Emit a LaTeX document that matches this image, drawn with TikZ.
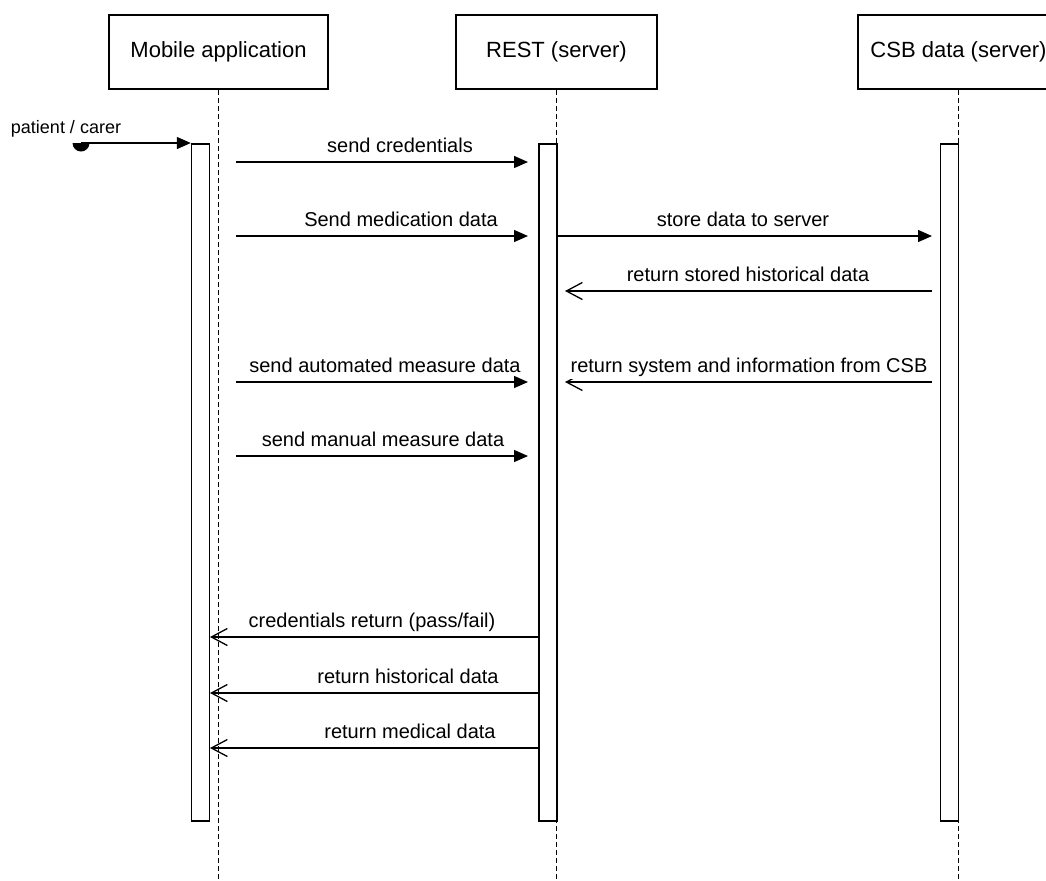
\documentclass[tikz,border=0pt]{standalone}
\usepackage{fontspec}
\setmainfont{Liberation Sans}
\usetikzlibrary{arrows.meta}

\tikzset{
  head/.style={draw, line width=0.8pt, minimum width=100.5pt, minimum height=37pt, font=\fontsize{11}{13}\selectfont},
  bar/.style={draw, line width=0.7pt, fill=white, minimum width=9pt, minimum height=338.5pt, inner sep=0pt},
  life/.style={line width=0.6pt, dash pattern=on 2.5pt off 1.5pt},
  call/.style={line width=0.65pt, -{Triangle[length=7pt, width=6pt]}},
  reply/.style={line width=0.65pt, -{Straight Barb[length=8pt, width=8.5pt]}},
  lbl/.style={font=\fontsize{10}{12}\selectfont, anchor=base, inner sep=1pt}
}

\begin{document}
\begin{tikzpicture}[x=0.5pt, y=-0.5pt]
            \path[use as bounding box] (0,0) rectangle (1046,880);
            \clip (0,0) rectangle (1046,880);

            % lifeline heads
            \node[head, minimum width=109.5pt] (app) at (218.5,52) {Mobile application};
            \node[head] (rest) at (556.5,52) {REST (server)};
            \node[head] (csb) at (958.5,52) {CSB data (server)};
            \coordinate (bottom) at (0,880);

            \draw[life] (app.south) -- (app.south |- bottom);
            \draw[life] (rest.south) -- (rest.south |- bottom);
            \draw[life] (csb.south) -- (csb.south |- bottom);

            % activation bars
            \node[bar] (appbar) at (200.5,482.5) {};
            \node[bar] (restbar) at (547.8,482.5) {};
            \node[bar] (csbbar) at (949.7,482.5) {};

            % actor
            \coordinate (actor) at (81,143);
            \fill ([xshift=-4.25pt]actor) arc[start angle=180, end angle=360, radius=4.25pt];
            \draw[call] (actor) -- (appbar.west |- actor);
            \node[lbl, font=\fontsize{9}{11}\selectfont] (actorlbl) at (66,133) {patient / carer};

            % app -> rest
            \coordinate (cred1) at (236,162);
            \coordinate (cred2) at (528,162);
            \draw[call] (cred1) -- (cred2);
            \node[lbl] (credlbl) at (400,152) {send credentials};

            \coordinate (med1) at (236,236);
            \coordinate (med2) at (528,236);
            \draw[call] (med1) -- (med2);
            \node[lbl] (medlbl) at (401,226) {Send medication data};

            \coordinate (auto1) at (236,382);
            \coordinate (auto2) at (528,382);
            \draw[call] (auto1) -- (auto2);
            \node[lbl] (autolbl) at (385,372) {send automated measure data};

            \coordinate (man1) at (236,456);
            \coordinate (man2) at (528,456);
            \draw[call] (man1) -- (man2);
            \node[lbl] (manlbl) at (383,446) {send manual measure data};

            % rest <-> csb
            \coordinate (store1) at (558,236);
            \coordinate (store2) at (932,236);
            \draw[call] (store1) -- (store2);
            \node[lbl] (storelbl) at (743,226) {store data to server};

            \coordinate (hist1) at (932,291);
            \coordinate (hist2) at (565,291);
            \draw[reply] (hist1) -- (hist2);
            \node[lbl] (histlbl) at (748,281) {return stored historical data};

            \coordinate (sys1) at (932,382);
            \coordinate (sys2) at (565,382);
            \draw[reply] (sys1) -- (sys2);
            \node[lbl, fill=white, inner sep=1.5pt] (syslbl) at (749,372) {return system and information from CSB};

            % rest -> app
            \coordinate (ret1) at (538,637);
            \coordinate (ret2) at (210,637);
            \draw[reply] (ret1) -- (ret2);
            \node[lbl] (retlbl) at (372,627) {credentials return (pass/fail)};

            \coordinate (rhist1) at (538,693);
            \coordinate (rhist2) at (210,693);
            \draw[reply] (rhist1) -- (rhist2);
            \draw[line width=1.4pt] (345,693) -- (436,693);
            \node[lbl] (rhistlbl) at (408,683) {return historical data};

            \coordinate (rmed1) at (538,748);
            \coordinate (rmed2) at (210,748);
            \draw[reply] (rmed1) -- (rmed2);
            \draw[line width=1.4pt] (345,748) -- (436,748);
            \node[lbl] (rmedlbl) at (410,738) {return medical data};
\end{tikzpicture}
\end{document}
